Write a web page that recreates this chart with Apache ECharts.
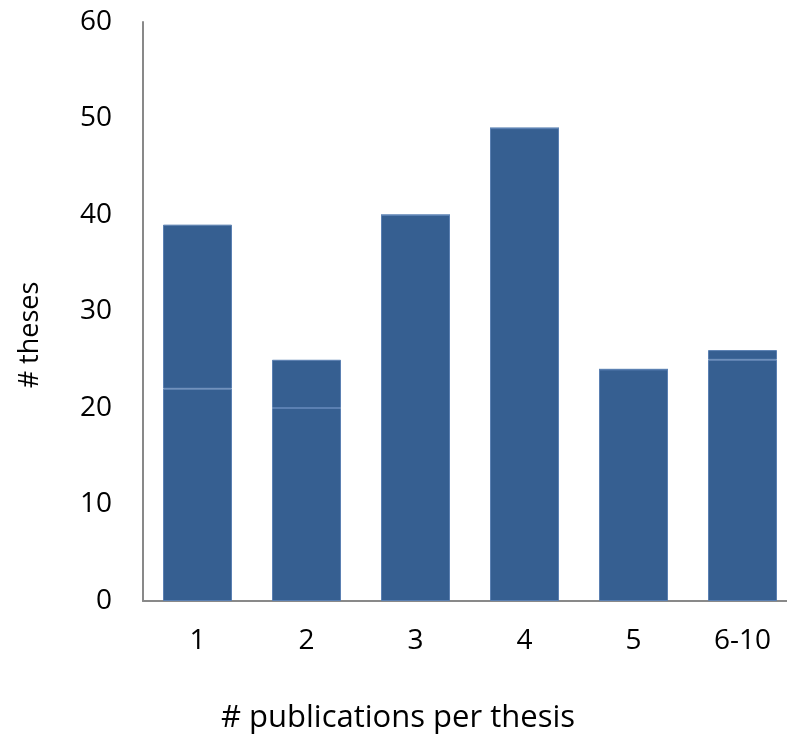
<!DOCTYPE html>
<html>
<head>
<meta charset="utf-8">
<script src="https://cdn.jsdelivr.net/npm/echarts@6/dist/echarts.min.js"></script>
<style>
  html, body { margin: 0; padding: 0; background: #fff; }
  #chart { width: 787px; height: 739px; }
</style>
</head>
<body>
<div id="chart"></div>
<script>
var categories = ['1', '2', '3', '4', '5', '6-10'];
var lowerPart = [22, 20, 40, 49, 24, 25];
var upperPart = [17, 5, 0, 0, 0, 1];
var yTicks = [0, 10, 20, 30, 40, 50, 60];
var xTitle = '# publications per thesis';
var yTitle = '# theses';

var font = '"Open Sans", "Noto Sans", sans-serif';
var barColor = '#365f91';
var edge = { borderColor: '#5b80b2', borderWidth: 1 };

var chart = echarts.init(document.getElementById('chart'));
chart.setOption({
    animation: false,
    grid: { left: 143, top: 22, height: 579, width: 654, containLabel: false, outerBoundsMode: 'none' },
    xAxis: {
        type: 'category',
        data: categories,
        axisLine: { lineStyle: { color: '#898989', width: 2 } },
        axisTick: { show: false },
        axisLabel: { fontFamily: font, fontSize: 28, color: '#000', margin: 26 }
    },
    yAxis: {
        type: 'value',
        min: yTicks[0],
        max: yTicks[yTicks.length - 1],
        interval: 10,
        axisLine: { show: true, lineStyle: { color: '#898989', width: 2 } },
        axisTick: { show: false },
        splitLine: { show: false },
        axisLabel: { fontFamily: font, fontSize: 28, color: '#000', margin: 31 }
    },
    graphic: [
        {
            type: 'text', x: 398, y: 718,
            style: { text: xTitle, font: '31px ' + font, fill: '#000', align: 'center', verticalAlign: 'middle' }
        },
        {
            type: 'text', x: 30, y: 335, rotation: Math.PI / 2,
            style: { text: yTitle, font: '27px ' + font, fill: '#000', align: 'center', verticalAlign: 'middle' }
        }
    ],
    series: [
        {
            type: 'bar',
            stack: 'all',
            data: lowerPart,
            barWidth: 69,
            itemStyle: Object.assign({ color: barColor }, edge)
        },
        {
            type: 'bar',
            stack: 'all',
            data: upperPart,
            barWidth: 69,
            itemStyle: Object.assign({ color: barColor }, edge)
        }
    ]
});
</script>
</body>
</html>
